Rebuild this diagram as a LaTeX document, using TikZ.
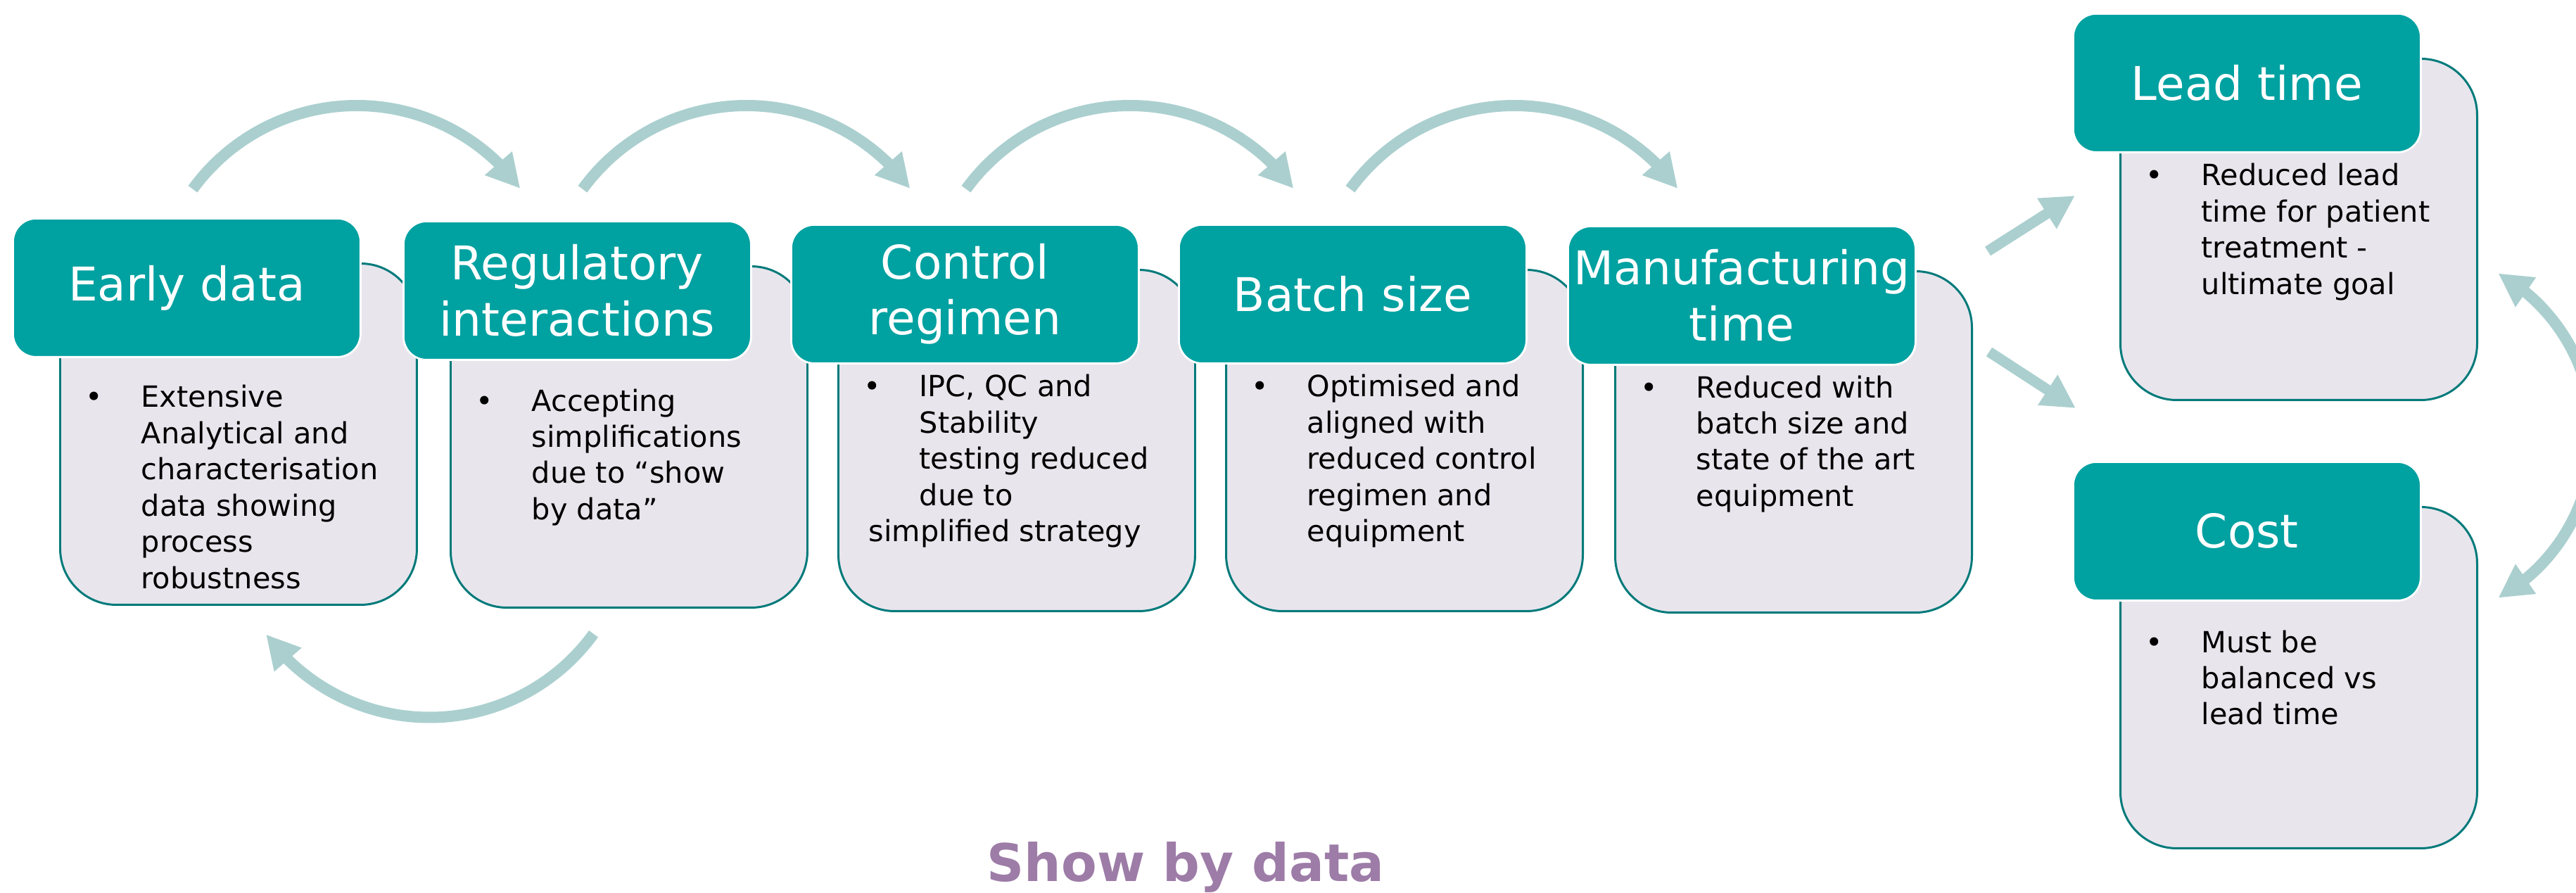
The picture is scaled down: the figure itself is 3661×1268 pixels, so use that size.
\documentclass[tikz,border=0pt]{standalone}
\usepackage{fontspec}
\setmainfont{DejaVu Sans}
\usetikzlibrary{arrows.meta,bending,calc}

\definecolor{headteal}{RGB}{0,161,161}
\definecolor{bodyfill}{RGB}{233,229,237}
\definecolor{bodyline}{RGB}{0,122,122}
\definecolor{arrowtint}{RGB}{171,207,207}
\definecolor{showpurple}{RGB}{157,124,167}

\begin{document}
\begin{tikzpicture}[x=0.1mm,y=0.1mm,
  headbox/.style={draw=white, line width=0.8pt, fill=headteal, rounded corners=3.3mm,
    minimum width=49.4mm, minimum height=19.7mm, inner sep=0pt, text=white,
    align=center, anchor=north west, font=\fontsize{18.8pt}{22.5pt}\selectfont},
  bodybox/.style={draw=bodyline, line width=0.85pt, fill=bodyfill, rounded corners=8mm,
    minimum width=50.7mm, minimum height=48.5mm, inner sep=0pt, anchor=north west},
  bodytext/.style={inner sep=0pt, anchor=base west, font=\fontsize{11.8pt}{14.65pt}\selectfont},
  dot/.style={inner sep=0pt, anchor=base, font=\fontsize{11.8pt}{14.65pt}\selectfont},
  flow/.style={draw=arrowtint, line width=1.6mm, -{Triangle[length=4.75mm,width=4.8mm]}},
  bothflow/.style={draw=arrowtint, line width=1.6mm,
    {Triangle[length=4.75mm,width=4.8mm]}-{Triangle[length=4.75mm,width=4.8mm]}},
]
% canvas
\fill[white] (0,0) rectangle (3661,1268);
\useasboundingbox (0,0) rectangle (3661,1268);

% top-left corners of the title boxes
\coordinate (p1) at (17,959);
\coordinate (p2) at (572,955);
\coordinate (p3) at (1123,950);
\coordinate (p4) at (1674,950);
\coordinate (p5) at (2227,948);
\coordinate (p6) at (2945,1250);
\coordinate (p7) at (2945,613);

% content boxes (behind the titles)
\node[bodybox] (b1) at ($(p1)+(67,-64)$) {};
\node[bodybox] (b2) at ($(p2)+(67,-64)$) {};
\node[bodybox] (b3) at ($(p3)+(67,-64)$) {};
\node[bodybox] (b4) at ($(p4)+(67,-64)$) {};
\node[bodybox] (b5) at ($(p5)+(67,-64)$) {};
\node[bodybox] (b6) at ($(p6)+(67,-64)$) {};
\node[bodybox] (b7) at ($(p7)+(67,-64)$) {};

% title boxes
\node[headbox] (h1) at (p1) {Early data};
\node[headbox] (h2) at (p2) {Regulatory\\interactions};
\node[headbox] (h3) at (p3) {Control\\regimen};
\node[headbox] (h4) at (p4) {Batch size};
\node[headbox] (h5) at (p5) {Manufacturing\\time};
\node[headbox] (h6) at (p6) {Lead time};
\node[headbox] (h7) at (p7) {Cost};

% bullets and texts
\node[dot] (d1) at ($(b1.north west)+(50,-206)$) {•};
\node[bodytext] (t1) at ($(b1.north west)+(116,-206)$)
  {\parbox[t]{60mm}{\raggedright Extensive\\Analytical and\\characterisation\\data showing\\process\\robustness}};

\node[dot] (d2) at ($(b2.north west)+(50,-207)$) {•};
\node[bodytext] (t2) at ($(b2.north west)+(116,-207)$)
  {\parbox[t]{60mm}{\raggedright Accepting\\simplifications\\due to “show\\by data”}};

\node[dot] (d3) at ($(b3.north west)+(50,-182)$) {•};
\node[bodytext] (t3) at ($(b3.north west)+(116,-182)$)
  {\parbox[t]{60mm}{\raggedright IPC, QC and\\Stability\\testing reduced\\due to\\\hspace*{-7.2mm}simplified strategy}};

\node[dot] (d4) at ($(b4.north west)+(50,-182)$) {•};
\node[bodytext] (t4) at ($(b4.north west)+(116,-182)$)
  {\parbox[t]{60mm}{\raggedright Optimised and\\aligned with\\reduced control\\regimen and\\equipment}};

\node[dot] (d5) at ($(b5.north west)+(50,-181)$) {•};
\node[bodytext] (t5) at ($(b5.north west)+(116,-181)$)
  {\parbox[t]{60mm}{\raggedright Reduced with\\batch size and\\state of the art\\equipment}};

\node[dot] (d6) at ($(b6.north west)+(50,-182)$) {•};
\node[bodytext] (t6) at ($(b6.north west)+(116,-182)$)
  {\parbox[t]{60mm}{\raggedright Reduced lead\\time for patient\\treatment -\\ultimate goal}};

\node[dot] (d7) at ($(b7.north west)+(50,-208)$) {•};
\node[bodytext] (t7) at ($(b7.north west)+(116,-208)$)
  {\parbox[t]{60mm}{\raggedright Must be\\balanced vs\\lead time}};

% curved arrows over the chain
\foreach \cx [count=\i] in {507,1061,1606,2152}{
  \coordinate (arcstart\i) at ($(\cx,830)+(144:288)$);
  \draw[flow] (arcstart\i) arc[start angle=144, end angle=36.2, radius=288];
}

% return arrow under the first two boxes
\coordinate (backstart) at ($(610.5,536.5)+(324:288)$);
\draw[flow] (backstart) arc[start angle=324, end angle=216.2, radius=288];

% arrows towards lead time and cost
\coordinate (upfrom) at (2825,911);
\coordinate (upto) at (2949,990);
\coordinate (downfrom) at (2827,768);
\coordinate (downto) at (2950,688);
\draw[flow, line width=1.5mm] (upfrom) -- (upto);
\draw[flow, line width=1.5mm] (downfrom) -- (downto);

% two-way arrow between lead time and cost
\begin{scope}
  \clip (0,0) rectangle (3661,1268);
  \coordinate (twostart) at ($(3420,649)+(-60.5:265)$);
  \draw[bothflow] (twostart) arc[start angle=-60.5, end angle=60.5, radius=265];
\end{scope}

% caption
\node[inner sep=0pt, anchor=base, text=showpurple,
  font=\fontsize{21pt}{25pt}\selectfont\bfseries] (caption) at (1685,16) {Show by data};
\end{tikzpicture}
\end{document}
